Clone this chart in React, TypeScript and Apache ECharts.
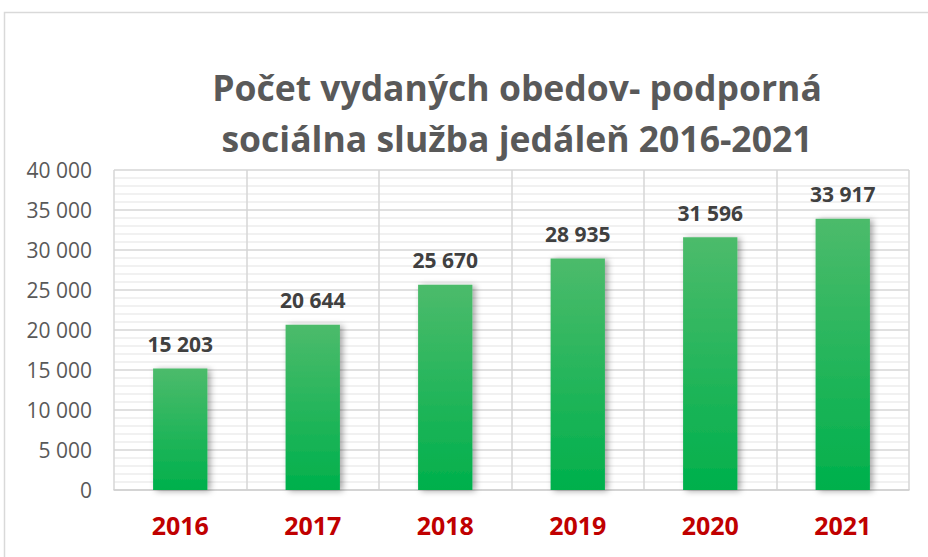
import React, { useEffect, useRef } from "react";
import * as echarts from "echarts";

const categories = ["2016", "2017", "2018", "2019", "2020", "2021"];
const values = [15203, 20644, 25670, 28935, 31596, 33917];
const titleLines = ["Počet vydaných obedov- podporná", "sociálna služba jedáleň 2016-2021"];

const fmt = (v: number) => String(v).replace(/\B(?=(\d{3})+(?!\d))/g, " ");
const FONT = "Open Sans";

export default function App() {
  const ref = useRef<HTMLDivElement>(null);
  useEffect(() => {
    if (!ref.current) return;
    const chart = echarts.init(ref.current, null, { renderer: "svg" });
    chart.setOption({
      animation: false,
      backgroundColor: "#ffffff",
      textStyle: { fontFamily: FONT },
      title: {
        text: titleLines.join("\n"),
        left: 512,
        textAlign: "center",
        top: 56,
        textStyle: {
          fontFamily: FONT,
          fontSize: 35.5,
          fontWeight: "bold",
          color: "#595959",
          lineHeight: 51,
        },
      },
      graphic: [
        {
          type: "rect",
          shape: { x: 4.5, y: 12.5, width: 960, height: 600 },
          style: { fill: "none", stroke: "#d9d9d9", lineWidth: 1.5 },
          silent: true,
          z: -1,
        },
      ],
      grid: { left: 114, right: 19, top: 170, bottom: 67 },
      xAxis: {
        type: "category",
        data: categories,
        axisLine: { show: true, lineStyle: { color: "#d0d0d0", width: 1.5 } },
        axisTick: { show: false },
        splitLine: { show: true, lineStyle: { color: "#d6d6d6", width: 1.5 } },
        axisLabel: {
          fontFamily: FONT,
          fontSize: 25,
          fontWeight: "bold",
          color: "#c00000",
          margin: 22,
        },
      },
      yAxis: {
        type: "value",
        min: 0,
        max: 40000,
        interval: 5000,
        axisLine: { show: false },
        axisTick: { show: false },
        splitLine: { show: true, lineStyle: { color: "#d6d6d6", width: 1.5 } },
        minorTick: { show: false, splitNumber: 5 },
        minorSplitLine: { show: true, lineStyle: { color: "#ececec", width: 1.5 } },
        axisLabel: {
          fontFamily: FONT,
          fontSize: 21,
          color: "#595959",
          margin: 22,
          formatter: (v: number) => fmt(v),
        },
      },
      series: [
        {
          type: "bar",
          data: values,
          barWidth: "41%",
          itemStyle: {
            color: new echarts.graphic.LinearGradient(0, 0, 0, 1, [
              { offset: 0, color: "#4cbb6b" },
              { offset: 1, color: "#00b04c" },
            ]),
            shadowColor: "rgba(0,0,0,0.35)",
            shadowBlur: 6,
            shadowOffsetX: 3,
            shadowOffsetY: 1,
          },
          label: {
            show: true,
            position: "top",
            distance: 14,
            fontFamily: FONT,
            fontSize: 21,
            fontWeight: "bold",
            color: "#404040",
            formatter: (p: any) => fmt(p.value),
          },
        },
      ],
    });
    return () => chart.dispose();
  }, []);
  return (
    <div
      ref={ref}
      style={{ position: "absolute", left: 0, top: 0, width: 928, height: 557 }}
    />
  );
}
